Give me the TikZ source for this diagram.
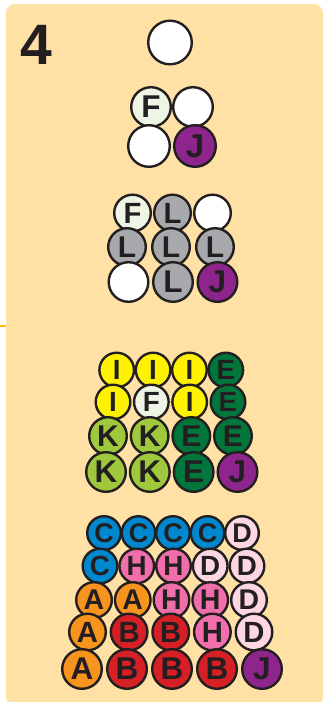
\documentclass[tikz,border=0pt]{standalone}
\usepackage{fontspec}
\setmainfont{Liberation Sans}
\definecolor{ink}{RGB}{35,31,32}
\definecolor{paper}{RGB}{255,225,165}
\definecolor{tick}{RGB}{255,194,14}
\definecolor{fgreen}{RGB}{238,245,228}
\definecolor{jpurple}{RGB}{142,37,140}
\definecolor{lgray}{RGB}{167,169,172}
\definecolor{iyellow}{RGB}{255,242,0}
\definecolor{egreen}{RGB}{0,118,60}
\definecolor{kgreen}{RGB}{160,200,60}
\definecolor{cblue}{RGB}{0,136,207}
\definecolor{dpink}{RGB}{252,214,224}
\definecolor{hpink}{RGB}{240,110,170}
\definecolor{aorange}{RGB}{247,148,29}
\definecolor{bred}{RGB}{215,31,38}
\tikzset{
  ball/.style={circle, draw=ink, line width=2.4pt, inner sep=0pt, text=ink},
  ballW/.style={ball, fill=white, node contents={}},
  ballF/.style={ball, fill=fgreen, node contents=F},
  ballJ/.style={ball, fill=jpurple, node contents=J},
  ballL/.style={ball, fill=lgray, node contents=L},
  ballI/.style={ball, fill=iyellow, node contents=I},
  ballE/.style={ball, fill=egreen, node contents=E},
  ballK/.style={ball, fill=kgreen, node contents=K},
  ballC/.style={ball, fill=cblue, node contents=C},
  ballD/.style={ball, fill=dpink, node contents=D},
  ballH/.style={ball, fill=hpink, node contents=H},
  ballA/.style={ball, fill=aorange, node contents=A},
  ballB/.style={ball, fill=bred, node contents=B},
}

\begin{document}
\begin{tikzpicture}[x=1pt, y=-1pt]
\useasboundingbox (0,0) rectangle (324,702);
% card
\fill[paper, rounded corners=9pt] (6,4) rectangle (323,706);
\draw[tick, line width=1.5pt] (0,326) -- (6,326);
\node[font=\bfseries\fontsize{57}{57}\selectfont, text=ink, inner sep=0pt] (num) at (36.5,45) {4};
% layers: group/row/y/left x/right x/radius/count/balls
\foreach \g/\row/\yy/\xa/\xb/\rr/\n/\balls in {
  a/1/42.5/170/170/23/1/{W},
  b/1/107/151/193/21/2/{F,W},
  b/2/146/149/195/22/2/{W,J},
  c/1/213/132.5/212.5/19.5/3/{F,L,W},
  c/2/247/127/215/20/3/{L,L,L},
  c/3/282/128.5/217.5/21/3/{W,L,J},
  d/1/370/116.7/225.8/18.5/4/{I,I,I,E},
  d/2/402/113/228/18.5/4/{I,F,I,E},
  d/3/436/108/233/20/4/{K,K,E,E},
  d/4/472/106/237.5/21/4/{K,K,E,J},
  e/1/533/104/242/18/5/{C,C,C,C,D},
  e/2/566/100/247/18.5/5/{C,H,H,D,D},
  e/3/600/94/249/19/5/{A,A,H,H,D},
  e/4/632/87.5/254/19.5/5/{A,B,B,H,D},
  e/5/669/82/262/21/5/{A,B,B,B,J}} {
  \pgfmathsetmacro{\fs}{1.5*\rr}
  \foreach \ball [count=\i] in \balls {
    \pgfmathsetmacro{\xx}{\xa+(\i-1)*(\xb-\xa)/max(\n-1,1)}
    \node (\g\row c\i) at (\xx,\yy)
      [minimum size=2*\rr-2.4, font=\bfseries\fontsize{\fs}{\fs}\selectfont, ball\ball];
  }
}
\end{tikzpicture}
\end{document}
